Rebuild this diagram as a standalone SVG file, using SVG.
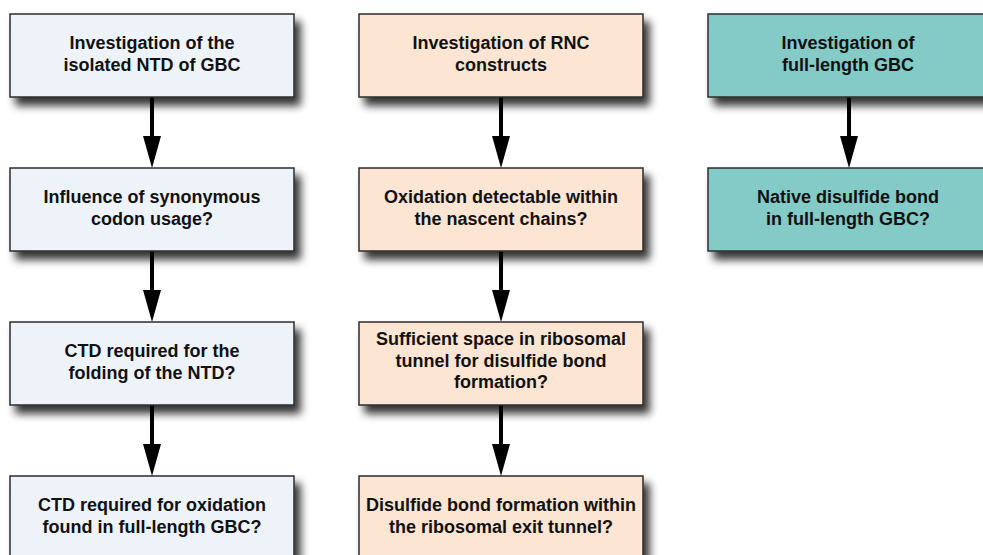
<svg xmlns="http://www.w3.org/2000/svg" width="983" height="555" viewBox="0 0 983 555">
<style>
.box{stroke:#2b2b2b;stroke-width:1.5}
.c1{fill:#eef3fa}
.c2{fill:#fde5d3}
.c3{fill:#84cac6}
text{font-family:"Liberation Sans",Arial,sans-serif;font-weight:bold;font-size:18px;fill:#111;text-anchor:middle}
.conn line{stroke:#000;stroke-width:4;marker-end:url(#ah)}
</style>
<defs>
<filter id="sh" x="-10%" y="-20%" width="130%" height="150%">
<feGaussianBlur in="SourceAlpha" stdDeviation="4"/>
<feOffset dx="6" dy="8" result="b"/>
<feComponentTransfer><feFuncA type="linear" slope="0.8"/></feComponentTransfer>
<feMerge><feMergeNode/><feMergeNode in="SourceGraphic"/></feMerge>
</filter>
<marker id="ah" viewBox="0 0 32 18" markerWidth="32" markerHeight="18" refX="0" refY="9" orient="auto" markerUnits="userSpaceOnUse">
<path d="M0,0 L32,9 L0,18 z" fill="#000"/>
</marker>
</defs>
<rect width="983" height="555" fill="#fff"/>
<g class="conn" id="connectors">
<line x1="152" y1="97" x2="152" y2="136"/>
<line x1="152" y1="251" x2="152" y2="290"/>
<line x1="152" y1="405" x2="152" y2="444"/>
<line x1="501" y1="97" x2="501" y2="136"/>
<line x1="501" y1="251" x2="501" y2="290"/>
<line x1="501" y1="405" x2="501" y2="444"/>
<line x1="849" y1="97" x2="849" y2="136"/>
</g>
<g id="n1"><rect class="box c1" x="10" y="14" width="284" height="83" filter="url(#sh)"/><text x="152" y="49">Investigation of the</text><text x="152" y="71">isolated NTD of GBC</text></g>
<g id="n2"><rect class="box c1" x="10" y="168" width="284" height="83" filter="url(#sh)"/><text x="152" y="203">Influence of synonymous</text><text x="152" y="225">codon usage?</text></g>
<g id="n3"><rect class="box c1" x="10" y="322" width="284" height="83" filter="url(#sh)"/><text x="152" y="357">CTD required for the</text><text x="152" y="379">folding of the NTD?</text></g>
<g id="n4"><rect class="box c1" x="10" y="476" width="284" height="83" filter="url(#sh)"/><text x="152" y="511">CTD required for oxidation</text><text x="152" y="533">found in full-length GBC?</text></g>
<g id="n5"><rect class="box c2" x="359" y="14" width="284" height="83" filter="url(#sh)"/><text x="501" y="49">Investigation of RNC</text><text x="501" y="71">constructs</text></g>
<g id="n6"><rect class="box c2" x="359" y="168" width="284" height="83" filter="url(#sh)"/><text x="501" y="203">Oxidation detectable within</text><text x="501" y="225">the nascent chains?</text></g>
<g id="n7"><rect class="box c2" x="359" y="322" width="284" height="83" filter="url(#sh)"/><text x="501" y="345">Sufficient space in ribosomal</text><text x="501" y="367">tunnel for disulfide bond</text><text x="501" y="388">formation?</text></g>
<g id="n8"><rect class="box c2" x="359" y="476" width="284" height="83" filter="url(#sh)"/><text x="501" y="511">Disulfide bond formation within</text><text x="501" y="533">the ribosomal exit tunnel?</text></g>
<g id="n9"><rect class="box c3" x="708" y="14" width="284" height="83" filter="url(#sh)"/><text x="848" y="49">Investigation of</text><text x="848" y="71">full-length GBC</text></g>
<g id="n10"><rect class="box c3" x="708" y="168" width="284" height="83" filter="url(#sh)"/><text x="848" y="203">Native disulfide bond</text><text x="848" y="225">in full-length GBC?</text></g>
</svg>
